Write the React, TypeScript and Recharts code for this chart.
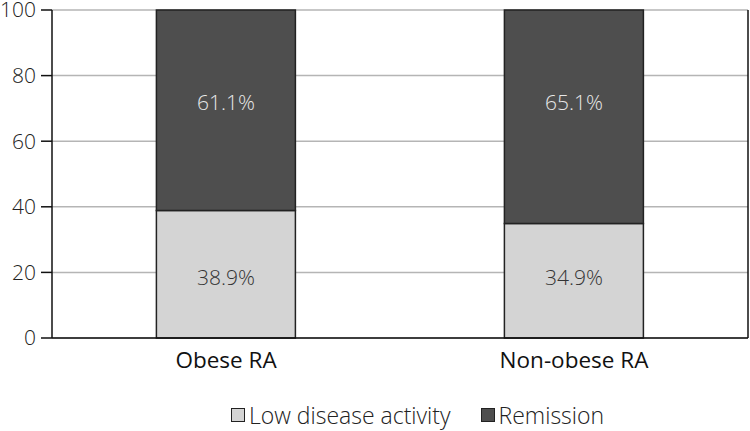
import React from "react";
import { BarChart, Bar, XAxis, YAxis, CartesianGrid, Legend, LabelList } from "recharts";

const categories = ["Obese RA", "Non-obese RA"];
const lowDiseaseActivity = [38.9, 34.9];
const remission = [61.1, 65.1];
const yTicks = [0, 20, 40, 60, 80, 100];
const seriesNames = ["Low disease activity", "Remission"];
const seriesColors = ["#d4d4d4", "#4e4e4e"];

const data = categories.map((name, i) => ({
  name,
  low: lowDiseaseActivity[i],
  rem: remission[i],
}));

const FONT = "'Open Sans', 'Noto Sans', sans-serif";

const CustomLegend = () => (
  <div
    style={{
      display: "flex",
      justifyContent: "center",
      alignItems: "center",
      fontFamily: FONT,
      fontSize: 23,
      fontWeight: 300,
      color: "#222",
      paddingTop: 2,
      paddingLeft: 86,
    }}
  >
    {seriesNames.map((n, i) => (
      <div key={n} style={{ display: "flex", alignItems: "center", marginRight: i === 0 ? 30 : 0 }}>
        <span
          style={{
            display: "inline-block",
            width: 12,
            height: 12,
            background: seriesColors[i],
            border: "1.5px solid #222",
            marginRight: 4,
          }}
        />
        <span>{n}</span>
      </div>
    ))}
  </div>
);

const fmt = (v: any) => `${Number(v).toFixed(1)}%`;

export default function App() {
  return (
    <div style={{ position: "absolute", left: 0, top: 0, background: "#fff" }}>
      <BarChart
        width={750}
        height={431}
        data={data}
        margin={{ top: 10, right: 1, bottom: 0, left: 0 }}
        barCategoryGap="30%"
      >
        <CartesianGrid vertical={false} stroke="#b5b5b5" strokeWidth={1.5} />
        <XAxis
          dataKey="name"
          tickLine={false}
          axisLine={{ stroke: "#111", strokeWidth: 1.5 }}
          tick={{ fill: "#111", fontSize: 22.5, fontFamily: FONT }}
          tickMargin={8}
          height={59}
        />
        <YAxis
          domain={[0, 100]}
          ticks={yTicks}
          width={52}
          tickSize={11}
          tickMargin={5}
          axisLine={{ stroke: "#111", strokeWidth: 1.5 }}
          tickLine={{ stroke: "#111", strokeWidth: 1.5 }}
          tick={{ fill: "#222", fontSize: 21, fontFamily: FONT, fontWeight: 300 }}
          interval={0}
        />
        <YAxis
          yAxisId="right"
          orientation="right"
          width={1}
          domain={[0, 100]}
          tick={false}
          tickLine={false}
          axisLine={{ stroke: "#111", strokeWidth: 1.5 }}
        />
        <Legend verticalAlign="bottom" height={34} content={<CustomLegend />} />
        <Bar
          dataKey="low"
          name={seriesNames[0]}
          stackId="a"
          fill={seriesColors[0]}
          stroke="#222"
          strokeWidth={1.5}
          isAnimationActive={false}
        >
          <LabelList
            dataKey="low"
            position="insideBottom"
            offset={53}
            formatter={fmt}
            style={{ fill: "#333", fontSize: 21, fontFamily: FONT, fontWeight: 300 }}
          />
        </Bar>
        <Bar
          dataKey="rem"
          name={seriesNames[1]}
          stackId="a"
          fill={seriesColors[1]}
          stroke="#222"
          strokeWidth={1.5}
          isAnimationActive={false}
        >
          <LabelList
            dataKey="rem"
            position="insideTop"
            offset={85}
            formatter={fmt}
            style={{ fill: "#e8e8e8", fontSize: 21, fontFamily: FONT, fontWeight: 300 }}
          />
        </Bar>
      </BarChart>
    </div>
  );
}
